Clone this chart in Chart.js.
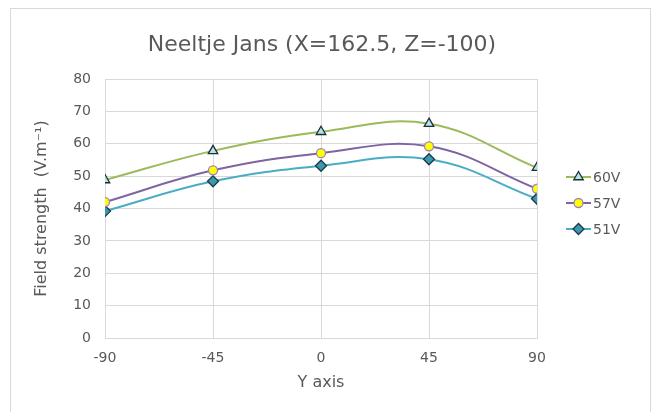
<!DOCTYPE html>
<html>
<head>
<meta charset="utf-8">
<script src="https://cdn.jsdelivr.net/npm/chart.js@4/dist/chart.umd.min.js"></script>
<style>
  html, body { margin: 0; padding: 0; background: #fff; }
  #wrap { width: 657px; height: 412px; }
</style>
</head>
<body>
<div id="wrap"><canvas id="c" width="657" height="412"></canvas></div>
<script>
// Measurement positions along the Y axis
const positions = [-90, -45, 0, 45, 90];
// Field strength per supply voltage (V.m-1)
const v60 = [48.8, 57.8, 63.7, 66.2, 52.6];
const v57 = [42.0, 51.8, 57.1, 59.2, 46.1];
const v51 = [39.2, 48.4, 53.2, 55.2, 43.0];
const seriesNames = ['60V', '57V', '51V'];
const xTicks = [-90, -45, 0, 45, 90];
const yTicks = [0, 10, 20, 30, 40, 50, 60, 70, 80];

const TEXT = '#595959';
const GRID = '#D9D9D9';
const FONT = '"DejaVu Sans", Verdana, sans-serif';

function pts(vals) { return positions.map((x, i) => ({ x: x, y: vals[i] })); }

const datasets = [
  { label: seriesNames[0], data: pts(v60), borderColor: '#9BBB59', pointStyle: 'triangle',
    pointBackgroundColor: '#B4E2EC', pointBorderColor: '#1E2E30', pointRadius: 5.5 },
  { label: seriesNames[1], data: pts(v57), borderColor: '#8064A2', pointStyle: 'circle',
    pointBackgroundColor: '#FFFF00', pointBorderColor: '#9B82BB', pointRadius: 4.5 },
  { label: seriesNames[2], data: pts(v51), borderColor: '#4BACC6', pointStyle: 'rectRot',
    pointBackgroundColor: '#3A98B0', pointBorderColor: '#1E3A42', pointRadius: 5.5 }
].map(d => Object.assign({ borderWidth: 2, pointBorderWidth: 1.3, tension: 0.4, fill: false }, d));

// Outer frame, title and legend drawn on the canvas
const decor = {
  id: 'decor',
  beforeDraw(chart) {
    const ctx = chart.ctx;
    ctx.save();
    ctx.fillStyle = '#fff';
    ctx.fillRect(0, 0, chart.width, chart.height);
    ctx.strokeStyle = '#D9D9D9';
    ctx.lineWidth = 1;
    ctx.strokeRect(10.5, 8.5, 640, 420);
    ctx.restore();
  },
  afterDraw(chart) {
    const ctx = chart.ctx;
    ctx.save();
    ctx.fillStyle = TEXT;
    ctx.font = '22px ' + FONT;
    ctx.textAlign = 'center';
    ctx.textBaseline = 'middle';
    ctx.fillText('Neeltje Jans (X=162.5, Z=-100)', 322, 45);
    // legend: line segment with marker, then label
    ctx.font = '14px ' + FONT;
    ctx.textAlign = 'left';
    chart.data.datasets.forEach((ds, i) => {
      const y = 177 + i * 26;
      ctx.strokeStyle = ds.borderColor;
      ctx.lineWidth = 2;
      ctx.beginPath();
      ctx.moveTo(566, y);
      ctx.lineTo(591, y);
      ctx.stroke();
      ctx.fillStyle = ds.pointBackgroundColor;
      ctx.strokeStyle = ds.pointBorderColor;
      ctx.lineWidth = ds.pointBorderWidth;
      Chart.helpers.drawPoint(ctx, { pointStyle: ds.pointStyle, radius: ds.pointRadius, rotation: 0, borderWidth: ds.pointBorderWidth }, 578.5, y);
      ctx.fillStyle = TEXT;
      ctx.fillText(ds.label, 593, y + 1);
    });
    ctx.restore();
  }
};

new Chart(document.getElementById('c'), {
  type: 'line',
  data: { datasets: datasets },
  options: {
    responsive: false,
    animation: false,
    layout: { padding: { left: 28, top: 79, right: 120, bottom: 14 } },
    plugins: { legend: { display: false }, title: { display: false }, tooltip: { enabled: false } },
    scales: {
      x: {
        type: 'linear', min: -90, max: 90,
        afterBuildTicks(s) { s.ticks = xTicks.map(v => ({ value: v })); },
        afterFit(s) { s.height = 60; },
        grid: { color: GRID, drawTicks: false },
        border: { color: GRID },
        ticks: { color: TEXT, font: { family: FONT, size: 14 }, padding: 12, maxRotation: 0 },
        title: { display: true, text: 'Y axis', color: TEXT, font: { family: FONT, size: 16 }, padding: { top: 2, bottom: 6 } }
      },
      y: {
        type: 'linear', min: 0, max: 80,
        afterBuildTicks(s) { s.ticks = yTicks.map(v => ({ value: v })); },
        afterFit(s) { s.width = 77; },
        grid: { color: GRID, drawTicks: false },
        border: { color: GRID },
        ticks: { color: TEXT, font: { family: FONT, size: 14 }, padding: 14 },
        title: { display: true, text: 'Field strength  (V.m\u207B\u00B9)', color: TEXT, font: { family: FONT, size: 16 }, padding: { bottom: 8 } }
      }
    }
  },
  plugins: [decor]
});
</script>
</body>
</html>
